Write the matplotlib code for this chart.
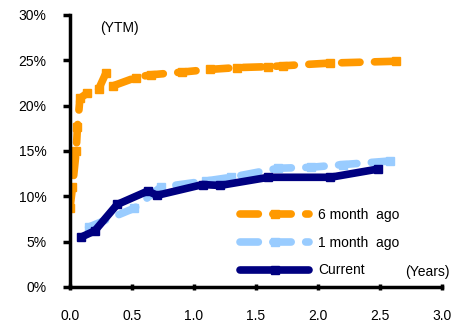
import matplotlib
matplotlib.use('Agg')
import matplotlib.pyplot as plt
from matplotlib.ticker import FuncFormatter

plt.rcParams['font.family'] = ['Liberation Sans', 'DejaVu Sans']
plt.rcParams['font.size'] = 10

# yield curves (years to maturity, YTM in %)
x_6m = [0.00, 0.02, 0.05, 0.06, 0.08, 0.14, 0.23, 0.29, 0.35, 0.53, 0.65, 0.90, 1.13, 1.35, 1.60, 1.72, 2.10, 2.63]
y_6m = [8.7, 11.0, 15.0, 17.6, 20.8, 21.4, 21.8, 23.6, 22.2, 23.1, 23.4, 23.7, 24.0, 24.2, 24.3, 24.4, 24.7, 24.9]

x_1m = [0.15, 0.52, 0.73, 1.10, 1.30, 1.68, 1.94, 2.20, 2.58]
y_1m = [6.6, 8.7, 11.0, 11.7, 12.1, 13.1, 13.2, 13.5, 13.9]

x_now = [0.09, 0.20, 0.38, 0.63, 0.70, 1.07, 1.21, 1.60, 2.10, 2.48]
y_now = [5.5, 6.2, 9.1, 10.6, 10.1, 11.3, 11.2, 12.1, 12.1, 13.0]

labels = ['6 month  ago', '1 month  ago', 'Current']
colors = ['#FF9900', '#99CCFF', '#000080']

fig = plt.figure(figsize=(4.56, 3.22), dpi=100)
ax = fig.add_axes([70/456, 1-287/322, 372/456, 272/322])

lw = 5.5
ms = 6
dash = dict(linestyle=(0, (2.4, 1.9)), dash_capstyle='round')
ax.plot(x_6m, y_6m, color=colors[0], lw=lw, marker='s', ms=ms, **dash, label=labels[0])
ax.plot(x_1m, y_1m, color=colors[1], lw=lw, marker='s', ms=ms, **dash, label=labels[1])
ax.plot(x_now, y_now, color=colors[2], lw=lw, marker='s', ms=ms,
        solid_capstyle='round', label=labels[2])

ax.set_xlim(0, 3.0)
ax.set_ylim(0, 30)
ax.set_xticks([0, 0.5, 1.0, 1.5, 2.0, 2.5, 3.0])
ax.set_yticks(range(0, 31, 5))
ax.xaxis.set_major_formatter(FuncFormatter(lambda v, p: '%.1f' % v))
ax.yaxis.set_major_formatter(FuncFormatter(lambda v, p: '%d%%' % v))

for s in ['top', 'right']:
    ax.spines[s].set_visible(False)
for s in ['left', 'bottom']:
    ax.spines[s].set_linewidth(2.5)
ax.tick_params(axis='y', direction='out', length=5, width=2.5, pad=12)
ax.tick_params(axis='x', direction='inout', length=5, width=2.5, pad=13)

ax.text(0.24, 28.6, '(YTM)', ha='left', va='center')
ax.text(0.90, 0.055, '(Years)', transform=ax.transAxes, ha='left', va='center', clip_on=False)

leg = ax.legend(loc='lower left', bbox_to_anchor=(0.457, 0.035), frameon=False,
                borderpad=0, borderaxespad=0, handlelength=5, handletextpad=0.6,
                labelspacing=1.0, numpoints=1)

fig.savefig('out.png', dpi=100)
